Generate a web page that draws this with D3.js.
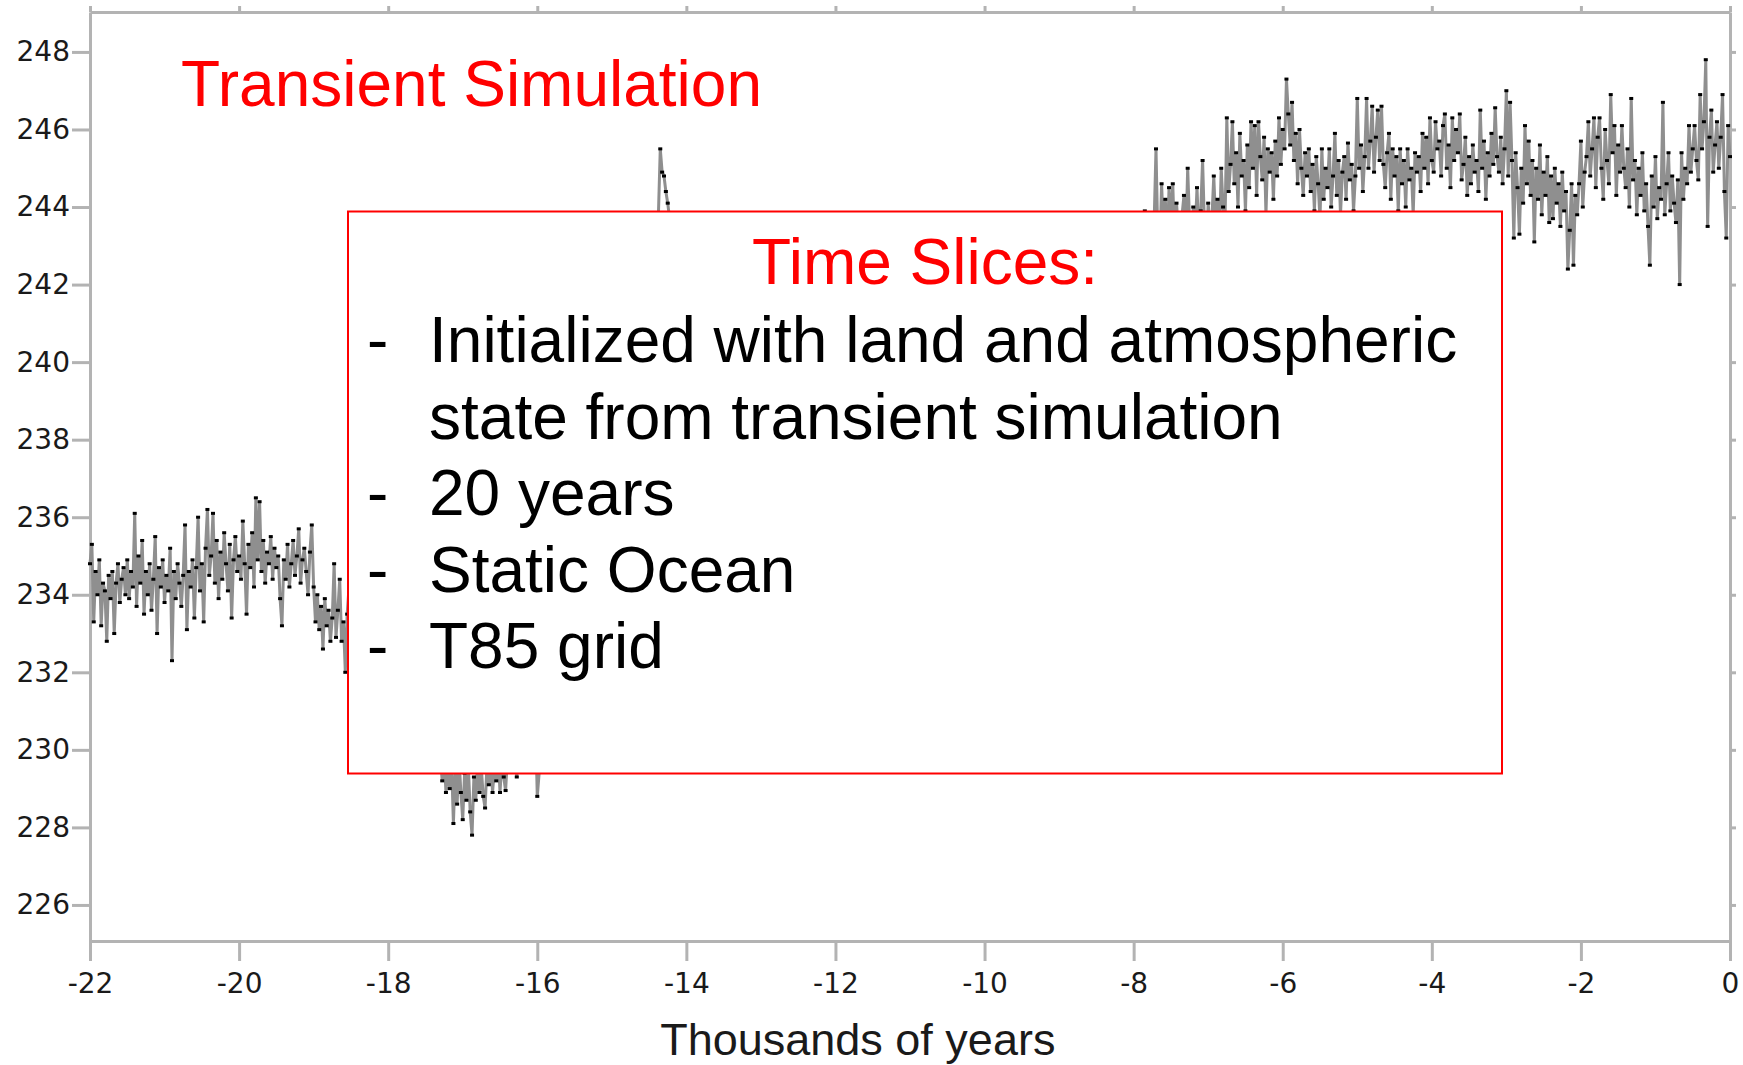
<!DOCTYPE html>
<html>
<head>
<meta charset="utf-8">
<title>Transient Simulation</title>
<script src="https://cdn.jsdelivr.net/npm/d3@7"></script>
<style>
  body { margin: 0; background: #fff; }
  svg { display: block; font-family: 'Liberation Sans', Arial, sans-serif; }
  .axis path, .axis line { stroke: #b3b3b3; stroke-width: 3; }
  .axis text { font-family: 'DejaVu Sans', sans-serif; font-size: 28px; fill: #1a1a1a; }
</style>
</head>
<body>
<div id="chart"></div>
<script>
// ---------------- data (thousands of years, temperature-like index) ----------------
var xTicks = [-22, -20, -18, -16, -14, -12, -10, -8, -6, -4, -2, 0];
var yTicks = [226, 228, 230, 232, 234, 236, 238, 240, 242, 244, 246, 248];

// -22.0 .. -18.5, every 0.025 kyr
var lgmStart = -22.0, lgmStep = 0.025;
var lgmValues = [
  234.8, 235.3, 233.3, 234.6, 234.0, 234.9, 233.2, 234.3, 234.1, 232.8,
  234.5, 233.9, 234.6, 233.0, 234.3, 234.8, 233.8, 234.4, 234.7, 234.0,
  234.9, 233.9, 234.6, 234.2, 236.1, 233.7, 235.0, 234.3, 235.4, 233.5,
  234.6, 234.0, 234.8, 233.6, 234.4, 235.5, 233.0, 234.7, 234.2, 234.9,
  233.8, 234.5, 234.1, 235.2, 232.3, 234.6, 233.9, 234.8, 234.3, 233.7,
  234.5, 235.8, 233.1, 234.6, 234.2, 234.9, 233.4, 234.7, 236.0, 234.1,
  234.8, 233.3, 235.2, 236.2, 234.5, 235.0, 236.1, 234.3, 235.4, 233.9,
  235.1, 234.4, 235.6, 234.8, 234.1, 235.3, 233.4, 234.9, 235.5, 234.6,
  235.0, 234.4, 235.9, 234.8, 233.5, 235.3, 234.7, 235.6, 234.2, 236.5,
  234.9, 236.4, 234.6, 235.4, 234.3, 235.1, 234.8, 235.5, 234.4, 235.2,
  234.7, 235.0, 233.9, 233.2, 234.9, 234.4, 235.3, 234.2, 234.8, 235.4,
  234.5, 235.0, 235.7, 234.3, 234.9, 235.2, 234.6, 234.0, 235.1, 235.8,
  234.2, 233.3, 234.0, 233.1, 233.7, 232.6, 233.9, 233.2, 233.6, 232.8,
  233.4, 234.8, 232.9, 233.6, 234.4, 232.8, 233.3, 232.0, 233.5, 234.2, 233.0
];

// -18.4 .. -17.4, every 0.1 kyr (behind the inset)
var earlyDeglacStart = -18.4, earlyDeglacStep = 0.1;
var earlyDeglacValues = [232.6, 232.2, 231.8, 231.3, 230.9, 230.5, 230.2, 230.0, 229.9, 229.8, 229.7];

// -17.3 .. -16.0, every 0.025 kyr
var h1Start = -17.3, h1Step = 0.025;
var h1Values = [
  229.8, 229.2, 229.9, 228.9, 229.6, 229.0, 229.7, 228.1, 229.5, 228.6,
  229.8, 228.9, 228.2, 229.4, 228.7, 229.6, 228.4, 227.8, 229.3, 228.7,
  229.7, 228.9, 229.5, 228.8, 228.5, 229.6, 229.1, 229.8, 228.9, 229.5,
  229.2, 229.9, 228.9, 229.7, 229.3, 228.95, 229.8, 230.2, 229.7, 230.4,
  229.9, 229.3, 230.1, 230.6, 230.0, 230.8, 230.3, 230.9, 230.4, 231.0,
  230.5, 230.9, 228.8
];

// -15.9 .. -14.5, every 0.1 kyr (behind the inset)
var lateH1Start = -15.9, lateH1Step = 0.1;
var lateH1Values = [231.2, 231.0, 231.5, 231.3, 231.8, 232.0, 232.5, 233.0, 234.5, 236.5, 238.5, 240.5, 242.0, 243.0, 243.5];

// -14.45 .. -14.15, every 0.025 kyr
var baStart = -14.45, baStep = 0.025;
var baValues = [243.2, 243.6, 243.5, 243.8, 245.5, 244.9, 244.8, 244.4, 244.1, 243.7, 243.4, 243.0, 242.6];

// -14.0 .. -8.0, every 0.25 kyr (behind the inset)
var ydStart = -14.0, ydStep = 0.25;
var ydValues = [242.0, 241.5, 241.8, 241.0, 240.5, 240.0, 239.0, 238.5, 238.0, 238.5, 239.5, 240.5, 241.5,
                242.0, 242.5, 242.8, 243.0, 243.0, 243.2, 243.0, 243.3, 243.1, 243.4, 243.2, 243.3];

// -7.9 .. 0, every 0.025 kyr
var holoStart = -7.9, holoStep = 0.025;
var holoValues = [
  243.2, 242.6, 243.9, 243.0, 242.5, 243.4, 242.8, 243.6, 245.5, 243.1,
  242.7, 244.6, 243.3, 244.2, 242.9, 244.5, 243.5, 244.6, 243.0, 244.1,
  243.4, 242.8, 243.8, 244.3, 243.1, 245.0, 243.6, 242.9, 244.0, 243.3,
  244.5, 243.2, 243.9, 245.2, 243.5, 242.8, 244.1, 243.4, 243.7, 244.8,
  243.6, 244.2, 243.1, 245.0, 244.0, 243.5, 246.3, 244.4, 245.1, 246.2,
  244.6, 245.4, 244.0, 245.9, 244.8, 245.2, 243.9, 245.6, 244.5, 246.2,
  245.0, 246.1, 244.3, 246.2, 245.3, 244.7, 245.8, 243.8, 245.5, 244.9,
  245.4, 244.2, 245.7, 244.8, 246.3, 245.1, 246.0, 245.5, 247.3, 246.4,
  245.6, 246.7, 245.2, 245.9, 244.6, 246.0, 245.0, 244.3, 245.4, 244.8,
  245.5, 244.4, 245.1, 243.9, 245.3, 244.6, 243.7, 245.5, 244.2, 245.0,
  244.5, 245.5, 244.0, 244.8, 245.9, 244.3, 245.2, 243.8, 244.9, 245.3,
  244.2, 245.65, 244.7, 245.1, 243.9, 244.8, 246.8, 245.0, 245.6, 244.4,
  245.3, 246.8, 245.0, 245.7, 246.6, 244.9, 245.8, 246.5, 245.2, 246.6,
  245.1, 244.5, 245.4, 245.9, 244.2, 245.5, 244.8, 245.3, 243.9, 245.5,
  244.6, 245.2, 244.0, 245.5, 244.7, 245.0, 243.8, 245.4, 244.9, 245.3,
  244.4, 245.9, 245.0, 245.8, 244.6, 246.3, 245.2, 244.9, 246.2, 245.5,
  245.7, 244.8, 246.1, 246.4, 245.0, 245.6, 244.5, 246.3, 245.2, 246.0,
  245.4, 246.4, 244.7, 245.1, 245.8, 244.3, 245.3, 244.6, 245.6, 244.9,
  245.2, 244.4, 246.5, 245.0, 245.7, 244.2, 245.4, 244.8, 245.9, 245.1,
  246.56, 245.3, 244.9, 245.8, 244.6, 245.5, 247.0, 244.8, 246.7, 245.2,
  243.2, 245.4, 244.5, 243.3, 245.0, 244.1, 246.1, 244.6, 245.7, 244.3,
  245.2, 243.1, 245.0, 244.2, 245.6, 243.8, 244.9, 244.3, 245.3, 243.6,
  244.8, 243.7, 245.0, 244.1, 244.6, 243.5, 244.9, 243.9, 244.4, 242.4,
  243.4, 244.6, 242.5, 244.3, 243.8, 244.6, 245.7, 244.0, 244.9, 245.3,
  246.2, 244.8, 245.5, 246.3, 244.5, 245.8, 246.3, 245.0, 244.2, 246.0,
  245.2, 244.6, 246.9, 245.4, 246.1, 244.3, 245.6, 244.9, 246.1, 245.0,
  244.5, 245.5, 244.0, 246.8, 244.7, 245.2, 243.8, 245.0, 244.3, 245.4,
  243.9, 244.6, 243.5, 242.5, 244.8, 244.0, 245.3, 243.7, 244.5, 244.2,
  246.7, 243.8, 244.6, 245.4, 243.9, 244.8, 244.1, 243.6, 244.7, 242.0,
  245.4, 244.2, 245.0, 244.6, 246.1, 244.9, 245.5, 246.1, 245.2, 244.7,
  246.9, 245.5, 246.2, 247.8, 243.5, 245.8, 246.5, 244.9, 245.6, 246.2,
  245.0, 245.8, 246.9, 244.4, 243.2, 246.1, 245.3
];

var titleText = 'Transient Simulation';
var xAxisTitle = 'Thousands of years';
var insetTitle = 'Time Slices:';
var insetLines = [
  {dash: true,  text: 'Initialized with land and atmospheric'},
  {dash: false, text: 'state from transient simulation'},
  {dash: true,  text: '20 years'},
  {dash: true,  text: 'Static Ocean'},
  {dash: true,  text: 'T85 grid'}
];

// ---------------- svg ----------------
var W = 1743, H = 1065;
var margin = {top: 12, right: 13, bottom: 124, left: 90},
    width = W - margin.left - margin.right,
    height = H - margin.top - margin.bottom;

var svg = d3.select('#chart').append('svg')
    .attr('width', W)
    .attr('height', H);

var g = svg.append('g')
    .attr('transform', 'translate(' + margin.left + ',' + margin.top + ')');

var x = d3.scaleLinear().domain([-22, 0]).range([0, width]);
var y = d3.scaleLinear().domain([225.07, 249.03]).range([height, 0]);

function seg(start, step, values) {
    return values.map(function (v, i) { return {t: start + i * step, v: v}; });
}
var series = [].concat(
    seg(lgmStart, lgmStep, lgmValues),
    seg(earlyDeglacStart, earlyDeglacStep, earlyDeglacValues),
    seg(h1Start, h1Step, h1Values),
    seg(lateH1Start, lateH1Step, lateH1Values),
    seg(baStart, baStep, baValues),
    seg(ydStart, ydStep, ydValues),
    seg(holoStart, holoStep, holoValues)
);

// axes (frame on four sides)
g.append('g').attr('class', 'axis')
    .attr('transform', 'translate(0,' + height + ')')
    .call(d3.axisBottom(x).tickValues(xTicks).tickSize(20).tickPadding(12)
        .tickSizeOuter(0).tickFormat(function (d) { return String(d); }));
g.append('g').attr('class', 'axis')
    .call(d3.axisTop(x).tickValues(xTicks).tickSize(6).tickSizeOuter(0).tickFormat(''));
g.append('g').attr('class', 'axis')
    .call(d3.axisLeft(y).tickValues(yTicks).tickSize(18).tickPadding(2)
        .tickSizeOuter(0).tickFormat(function (d) { return String(d); }));
g.append('g').attr('class', 'axis')
    .attr('transform', 'translate(' + width + ',0)')
    .call(d3.axisRight(y).tickValues(yTicks).tickSize(6).tickSizeOuter(0).tickFormat(''));

// x axis title
g.append('text')
    .attr('x', x(-11.7)).attr('y', height + 114)
    .attr('text-anchor', 'middle')
    .attr('fill', '#1a1a1a')
    .style('font-size', '45px')
    .text(xAxisTitle);

// series: grey connecting line + black markers
var line = d3.line().x(function (d) { return x(d.t); }).y(function (d) { return y(d.v); });
g.append('path')
    .datum(series)
    .attr('d', line)
    .attr('fill', 'none')
    .attr('stroke', '#8f8f8f')
    .attr('stroke-width', 3);

g.append('g').selectAll('rect')
    .data(series)
    .enter()
    .append('rect')
    .attr('x', function (d) { return x(d.t) - 2; })
    .attr('y', function (d) { return y(d.v) - 1.5; })
    .attr('width', 4)
    .attr('height', 3)
    .attr('fill', '#000');

// title
svg.append('text')
    .attr('x', 181).attr('y', 106)
    .attr('fill', '#ff0000')
    .style('font-size', '64px')
    .text(titleText);

// inset box
var box = {x: 348, y: 211.5, w: 1154, h: 562};
svg.append('rect')
    .attr('x', box.x).attr('y', box.y)
    .attr('width', box.w).attr('height', box.h)
    .attr('fill', '#fff')
    .attr('stroke', '#ff0000')
    .attr('stroke-width', 2);

svg.append('text')
    .attr('x', box.x + box.w / 2).attr('y', 284)
    .attr('text-anchor', 'middle')
    .attr('fill', '#ff0000')
    .style('font-size', '64px')
    .text(insetTitle);

var lines = svg.append('g').style('font-size', '64px').attr('fill', '#000');
insetLines.forEach(function (l, i) {
    var by = 362 + i * 76.5;
    if (l.dash) lines.append('text').attr('x', 367).attr('y', by).text('-');
    lines.append('text').attr('x', 429).attr('y', by).text(l.text);
});
</script>
</body>
</html>
